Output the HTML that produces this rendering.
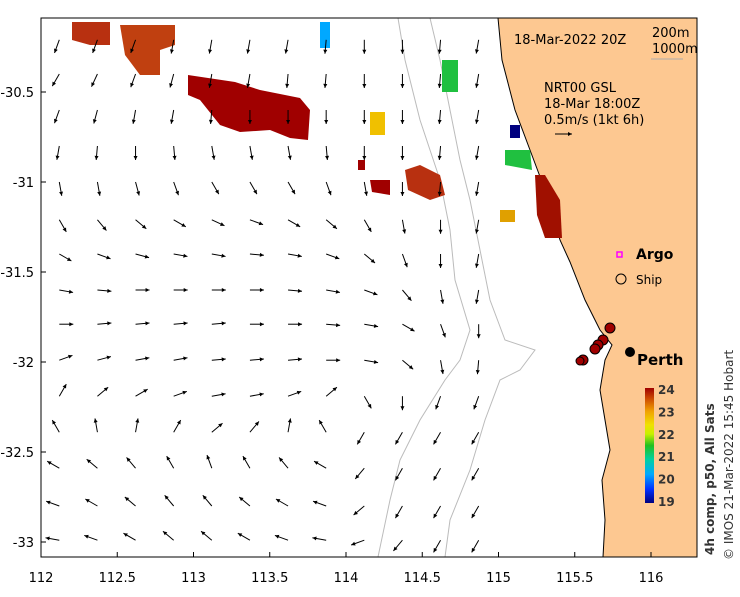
<!DOCTYPE html>
<html><head><meta charset="utf-8"><style>
body{margin:0;background:#fff;font-family:"Liberation Sans","DejaVu Sans",sans-serif}
svg text{font-family:"DejaVu Sans","Liberation Sans",sans-serif}
</style></head><body>
<svg width="740" height="592" viewBox="0 0 740 592" xmlns="http://www.w3.org/2000/svg">
<defs>
<linearGradient id="cb" x1="0" y1="1" x2="0" y2="0">
<stop offset="0" stop-color="#00007f"/><stop offset="0.12" stop-color="#0030ff"/><stop offset="0.25" stop-color="#00a8ff"/><stop offset="0.38" stop-color="#00d0a0"/><stop offset="0.5" stop-color="#20c020"/><stop offset="0.6" stop-color="#c8f000"/><stop offset="0.68" stop-color="#f0e000"/><stop offset="0.8" stop-color="#f0a000"/><stop offset="0.9" stop-color="#d05000"/><stop offset="1" stop-color="#a00000"/>
</linearGradient>
<clipPath id="plot"><rect x="41" y="18" width="656" height="539"/></clipPath>
</defs>
<g clip-path="url(#plot)">
<path fill="#fdc891" d="M498,18 L697,18 L697,557 L603,557 L605,520 L602,480 L610,450 L605,420 L600,390 L605,360 L612,345 L600,330 L585,300 L570,262 L560,240 L545,190 L530,150 L515,110 L502,60 Z"/>
<path fill="none" stroke="#000" stroke-width="1" d="M498,18 L502,60 L515,110 L530,150 L545,190 L560,240 L570,262 L585,300 L600,330 L612,345 L605,360 L600,390 L605,420 L610,450 L602,480 L605,520 L603,557"/>
<path fill="none" stroke="#bbb" stroke-width="1" d="M430,18 L440,60 L450,110 L460,160 L470,200 L480,250 L490,300 L505,340 L535,350 L520,370 L500,380 L485,420 L470,470 L450,520 L445,557"/>
<path fill="none" stroke="#bbb" stroke-width="1" d="M398,18 L405,60 L420,120 L440,180 L450,230 L455,280 L470,330 L460,360 L445,380 L420,420 L400,460 L390,500 L378,557"/>
<g>
<path fill="#a00000" d="M188,75 L235,82 L260,90 L300,98 L310,110 L308,140 L290,138 L270,130 L240,132 L220,125 L200,100 L188,95 Z"/>
<path fill="#b83010" d="M72,22 L110,22 L110,45 L90,45 L72,40 Z"/>
<path fill="#c04010" d="M120,25 L175,25 L175,45 L160,50 L160,75 L140,75 L125,55 Z"/>
<path fill="#a00000" d="M370,180 L390,180 L390,195 L372,192 Z"/>
<path fill="#a00000" d="M358,160 L365,160 L365,170 L358,170 Z"/>
<path fill="#b83010" d="M405,170 L420,165 L440,175 L445,195 L430,200 L408,190 Z"/>
<path fill="#a01000" d="M535,175 L545,175 L560,200 L562,238 L545,238 L537,215 Z"/>
<path fill="#20c040" d="M505,150 L530,150 L532,170 L505,165 Z"/>
<path fill="#00007f" d="M510,125 L520,125 L520,138 L510,138 Z"/>
<path fill="#e0a000" d="M500,210 L515,210 L515,222 L500,222 Z"/>
<path fill="#20c040" d="M442,60 L458,60 L458,92 L442,92 Z"/>
<path fill="#00a8ff" d="M320,22 L330,22 L330,48 L320,48 Z"/>
<path fill="#f0c000" d="M370,112 L385,112 L385,135 L370,135 Z"/>
</g>
<g id="arrows" stroke="#000" stroke-width="1" fill="#000"></g>
<g fill="#a00000" stroke="#000" stroke-width="1">
<circle cx="610" cy="328" r="5"/><circle cx="603" cy="340" r="5"/><circle cx="598" cy="345" r="5"/><circle cx="595" cy="349" r="5"/><circle cx="583" cy="360" r="5"/><circle cx="580" cy="361" r="4"/>
</g>
</g>
<rect x="41" y="18" width="656" height="539" fill="none" stroke="#000" stroke-width="1"/>
<g id="axes" font-size="13" fill="#000"></g>
<circle cx="630" cy="352" r="5" fill="#000"/>
<text x="637" y="365" font-size="15" font-weight="bold">Perth</text>
<text x="514" y="44" font-size="13">18-Mar-2022 20Z</text>
<text x="652" y="37" font-size="13">200m</text>
<text x="652" y="53" font-size="13">1000m</text>
<line x1="651" y1="59" x2="683" y2="59" stroke="#aaa"/>
<text x="544" y="92" font-size="13">NRT00 GSL</text>
<text x="544" y="108" font-size="13">18-Mar 18:00Z</text>
<text x="544" y="124" font-size="13">0.5m/s (1kt 6h)</text>
<line x1="555" y1="134" x2="572" y2="134" stroke="#000"/><path d="M572,134 l-4,-2 l0,4 z" fill="#000"/>
<rect x="617" y="252" width="5" height="5" fill="none" stroke="#f0f" stroke-width="1.5"/>
<text x="636" y="259" font-size="14" font-weight="bold">Argo</text>
<circle cx="621" cy="279" r="5" fill="none" stroke="#000"/>
<text x="636" y="284" font-size="12">Ship</text>
<rect x="645" y="388" width="9" height="115" fill="url(#cb)"/>
<g id="cbt" font-size="12" font-weight="bold" fill="#333"></g>
<text transform="translate(714,555) rotate(-90)" font-size="12" font-weight="bold" fill="#333">4h comp, p50, All Sats</text>
<text transform="translate(733,560) rotate(-90)" font-size="12" fill="#333">© IMOS 21-Mar-2022 15:45 Hobart</text>
</svg>
<script>
const lonTicks=[112,112.5,113,113.5,114,114.5,115,115.5,116];
const latTicks=[-30.5,-31,-31.5,-32,-32.5,-33];
const cbTicks=[19,20,21,22,23,24];
const arrowLons=[112.12,112.37,112.62,112.87,113.12,113.37,113.62,113.87,114.12,114.37,114.62,114.87];
const arrowLats=[-30.21,-30.4,-30.6,-30.8,-31,-31.21,-31.4,-31.6,-31.79,-31.99,-32.19,-32.39,-32.59,-32.8,-32.99];
const arrowAngles=[
[110,110,110,100,100,100,100,95,90,90,95,100],
[120,115,110,105,100,100,95,95,90,90,95,100],
[110,105,100,100,95,90,90,90,90,90,95,100],
[100,95,90,85,80,80,80,85,90,90,95,100],
[80,80,75,70,60,60,60,70,80,90,95,100],
[60,50,40,30,25,20,30,40,60,80,90,100],
[30,20,15,10,10,5,10,20,40,70,90,100],
[10,5,0,0,0,0,5,10,20,50,80,100],
[0,-5,-5,-5,-5,0,0,5,10,30,70,90],
[-20,-15,-10,-10,-5,-5,-5,0,10,40,80,95],
[-60,-40,-30,-20,-10,-10,-20,-40,60,90,110,110],
[-120,-100,-80,-60,-40,-50,-80,-120,120,120,120,120],
[-150,-140,-130,-120,-110,-120,-130,-150,130,120,120,120],
[-160,-150,-140,-130,-130,-140,-150,-160,140,120,120,120],
[-170,-160,-150,-140,-140,-150,-160,-170,160,130,120,120]];
const xs=l=>41+(l-112)*152.5, ys=l=>92+(-30.5-l)*180, cy=v=>502-(v-19)*22.4;
const NS='http://www.w3.org/2000/svg';
const ax=document.getElementById('axes');
lonTicks.forEach(l=>{const t=document.createElementNS(NS,'text');


t.setAttribute('x',xs(l));t.setAttribute('y',582);t.setAttribute('text-anchor','middle');t.textContent=l;ax.appendChild(t);
const k=document.createElementNS(NS,'line');k.setAttribute('x1',xs(l));k.setAttribute('x2',xs(l));k.setAttribute('y1',557);k.setAttribute('y2',552);k.setAttribute('stroke','#000');ax.appendChild(k);});
latTicks.forEach(l=>{const t=document.createElementNS(NS,'text');


t.setAttribute('x',34);t.setAttribute('y',ys(l)+5);t.setAttribute('text-anchor','end');t.textContent=l;ax.appendChild(t);
const k=document.createElementNS(NS,'line');k.setAttribute('x1',41);k.setAttribute('x2',46);k.setAttribute('y1',ys(l));k.setAttribute('y2',ys(l));k.setAttribute('stroke','#000');ax.appendChild(k);});
const cb=document.getElementById('cbt');
cbTicks.forEach(v=>{const t=document.createElementNS(NS,'text');


t.setAttribute('x',658);t.setAttribute('y',cy(v)+4);t.textContent=v;cb.appendChild(t);});
const ag=document.getElementById('arrows');
arrowLats.forEach((la,i)=>arrowLons.forEach((lo,j)=>{
const a=arrowAngles[i][j]*Math.PI/180, L=14, x0=xs(lo), y0=ys(la);
const x1=x0+L*Math.cos(a), y1=y0+L*Math.sin(a);
const g=document.createElementNS(NS,'g');


g.innerHTML=`<line x1="${x0}" y1="${y0}" x2="${x1}" y2="${y1}"/><path stroke="none" d="M${x1},${y1} L${x1-4*Math.cos(a)+2*Math.sin(a)},${y1-4*Math.sin(a)-2*Math.cos(a)} L${x1-4*Math.cos(a)-2*Math.sin(a)},${y1-4*Math.sin(a)+2*Math.cos(a)} Z"/>`;
ag.appendChild(g);}));
</script>
</body></html>
